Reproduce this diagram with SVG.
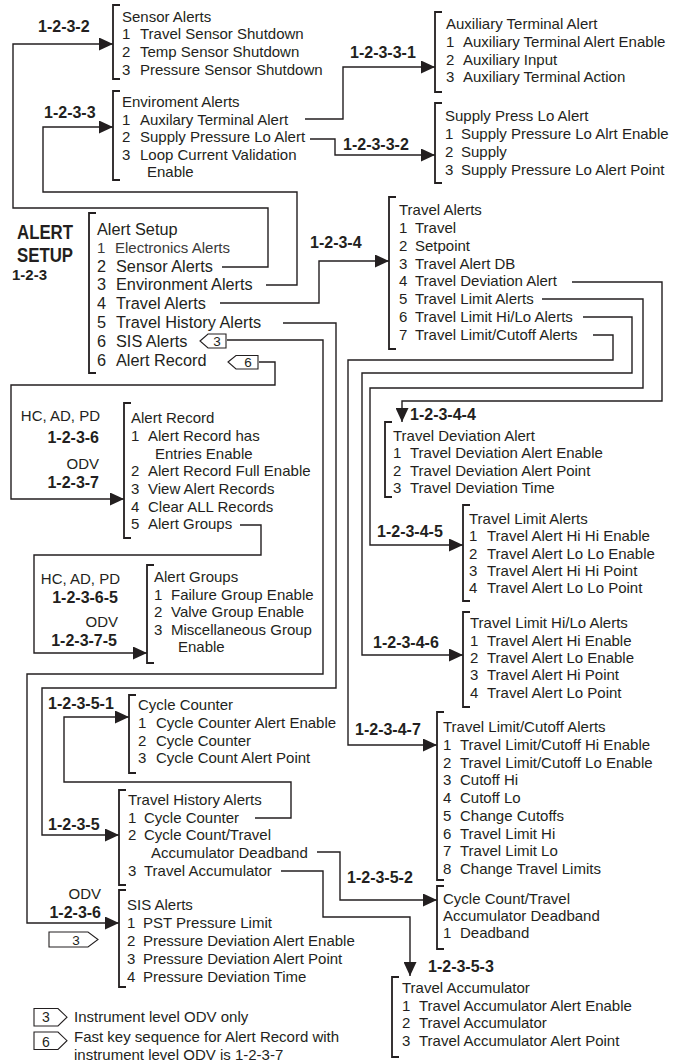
<svg xmlns="http://www.w3.org/2000/svg" width="673" height="1064" viewBox="0 0 673 1064">
<style>
text { font-family: "Liberation Sans", Arial, sans-serif; font-size: 15px; fill: #231f20; }
.m { font-size: 16.3px; }
.e { font-size: 15px; fill: #3a3a3a; }
.b { font-weight: bold; font-size: 16px; }
.big { font-weight: bold; font-size: 20px; }
.r { text-anchor: end; }
.bd { font-size: 13.5px; text-anchor: middle; }
.br { fill: none; stroke: #231f20; stroke-width: 1.8; }
.c { fill: none; stroke: #231f20; stroke-width: 1.4; }
.a { marker-end: url(#ah); }
.ad { marker-end: url(#ahd); }
.tag { fill: #fff; stroke: #231f20; stroke-width: 1.1; }
</style>
<defs>
<marker id="ah" viewBox="0 0 14 13" refX="14" refY="6.5" markerWidth="14" markerHeight="13" markerUnits="userSpaceOnUse" orient="auto"><path d="M0,0 L14,6.5 L0,13 z" fill="#231f20"/></marker>
<marker id="ahd" viewBox="0 0 14 13" refX="14" refY="6.5" markerWidth="14" markerHeight="13" markerUnits="userSpaceOnUse" orient="auto"><path d="M0,0 L14,6.5 L0,13 z" fill="#231f20"/></marker>
</defs>
<rect width="673" height="1064" fill="#fff"/>

<g id="connectors">
<polyline class="c a" points="222,267 268,267 268,208 13,208 13,44 113,44"/>
<polyline class="c a" points="266,285 297,285 297,192 43,192 43,127 113,127"/>
<polyline class="c a" points="220,303 319,303 319,261 389,261"/>
<polyline class="c a" points="283,323 336,323 336,688 42,688 42,835 119,835"/>
<polyline class="c a" points="227,340 323,340 323,674 27,674 27,923 119,923"/>
<polyline class="c a" points="259,362 275,362 275,385 11,385 11,499 124,499"/>
<polyline class="c a" points="240,525 261,525 261,555 34,555 34,653 147,653"/>
<polyline class="c a" points="305,119 343,119 343,67 435,67"/>
<polyline class="c a" points="310,139 335,139 335,155 435,155"/>
<polyline class="c ad" points="572,282 662,282 662,401 402,401 402,422"/>
<polyline class="c a" points="542,299 643,299 643,388 370,388 370,545 463,545"/>
<polyline class="c a" points="583,317 632,317 632,373 362,373 362,655 463,655"/>
<polyline class="c a" points="593,335 613,335 613,360 348,360 348,745 437,745"/>
<polyline class="c a" points="255,818 291,818 291,782 64,782 64,717 129,717"/>
<polyline class="c a" points="317,852 340,852 340,900 437,900"/>
<polyline class="c ad" points="281,871 323,871 323,917 410,917 410,976"/>
</g>

<g id="labels">
<text class="b" x="38" y="32">1-2-3-2</text>
<text class="b" x="44" y="118">1-2-3-3</text>
<text class="b" x="350" y="58">1-2-3-3-1</text>
<text class="b" x="343" y="150">1-2-3-3-2</text>
<text class="b" x="310" y="248">1-2-3-4</text>
<text class="b" x="410" y="420">1-2-3-4-4</text>
<text class="b" x="377" y="537">1-2-3-4-5</text>
<text class="b" x="373" y="648">1-2-3-4-6</text>
<text class="b" x="355" y="735">1-2-3-4-7</text>
<text class="b" x="48" y="709">1-2-3-5-1</text>
<text class="b" x="48" y="830">1-2-3-5</text>
<text class="b" x="347" y="883">1-2-3-5-2</text>
<text class="b" x="428" y="972">1-2-3-5-3</text>
<text class="r" x="100" y="421">HC, AD, PD</text>
<text class="b r" x="99" y="443">1-2-3-6</text>
<text class="r" x="99" y="469">ODV</text>
<text class="b r" x="99" y="488">1-2-3-7</text>
<text class="r" x="120" y="584">HC, AD, PD</text>
<text class="b r" x="118" y="603">1-2-3-6-5</text>
<text class="r" x="118" y="627">ODV</text>
<text class="b r" x="117" y="646">1-2-3-7-5</text>
<text class="r" x="101" y="899">ODV</text>
<text class="b r" x="101" y="918">1-2-3-6</text>
<path class="tag" d="M49,932 H88 L98,939.5 L88,947 H49 Z"/>
<text class="bd" x="76" y="944.5">3</text>
</g>

<g id="title">
<text class="big" x="17" y="239" textLength="56" lengthAdjust="spacingAndGlyphs">ALERT</text>
<text class="big" x="17" y="262" textLength="56" lengthAdjust="spacingAndGlyphs">SETUP</text>
<text class="b" x="12" y="280" style="font-size:15px">1-2-3</text>
</g>

<g id="n-alert-setup">
<path class="br" d="M96,213 H89 V373 H96"/>
<text class="m" x="97" y="235">Alert Setup</text>
<text class="e" y="252.7"><tspan x="97">1</tspan><tspan x="115">Electronics Alerts</tspan></text>
<text class="m" y="271.7"><tspan x="97">2</tspan><tspan x="116">Sensor Alerts</tspan></text>
<text class="m" y="290.3"><tspan x="97">3</tspan><tspan x="116">Environment Alerts</tspan></text>
<text class="m" y="309.2"><tspan x="97">4</tspan><tspan x="116">Travel Alerts</tspan></text>
<text class="m" y="328.1"><tspan x="97">5</tspan><tspan x="116">Travel History Alerts</tspan></text>
<text class="m" y="347"><tspan x="97">6</tspan><tspan x="116">SIS Alerts</tspan></text>
<text class="m" y="366"><tspan x="97">6</tspan><tspan x="116">Alert Record</tspan></text>
<path class="tag" d="M200,341 L208,334 H226 V348 H208 Z"/>
<text class="bd" x="217" y="346">3</text>
<path class="tag" d="M228,362 L236,355.5 H258 V369 H236 Z"/>
<text class="bd" x="248" y="367">6</text>
</g>

<g id="n-sensor">
<path class="br" d="M120,5 H113 V79 H120"/>
<text x="122" y="21.5">Sensor Alerts</text>
<text y="39.3"><tspan x="122">1</tspan><tspan x="140">Travel Sensor Shutdown</tspan></text>
<text y="57.1"><tspan x="122">2</tspan><tspan x="140">Temp Sensor Shutdown</tspan></text>
<text y="74.9"><tspan x="122">3</tspan><tspan x="140">Pressure Sensor Shutdown</tspan></text>
</g>

<g id="n-environment">
<path class="br" d="M120,91 H113 V180 H120"/>
<text x="122" y="107.3">Enviroment Alerts</text>
<text y="124.6"><tspan x="122">1</tspan><tspan x="140">Auxilary Terminal Alert</tspan></text>
<text y="142.2"><tspan x="122">2</tspan><tspan x="140">Supply Pressure Lo Alert</tspan></text>
<text y="159.8"><tspan x="122">3</tspan><tspan x="140">Loop Current Validation</tspan></text>
<text x="147" y="177.3">Enable</text>
</g>

<g id="n-aux-terminal">
<path class="br" d="M442,12 H435 V92 H442"/>
<text x="446" y="29.3">Auxiliary Terminal Alert</text>
<text y="47"><tspan x="446">1</tspan><tspan x="463">Auxiliary Terminal Alert Enable</tspan></text>
<text y="64.7"><tspan x="446">2</tspan><tspan x="463">Auxiliary Input</tspan></text>
<text y="82.4"><tspan x="446">3</tspan><tspan x="463">Auxiliary Terminal Action</tspan></text>
</g>

<g id="n-supply-press">
<path class="br" d="M442,103 H435 V183 H442"/>
<text x="445" y="121">Supply Press Lo Alert</text>
<text y="139"><tspan x="445">1</tspan><tspan x="461">Supply Pressure Lo Alrt Enable</tspan></text>
<text y="157"><tspan x="445">2</tspan><tspan x="461">Supply</tspan></text>
<text y="175"><tspan x="445">3</tspan><tspan x="461">Supply Pressure Lo Alert Point</tspan></text>
</g>

<g id="n-travel-alerts">
<path class="br" d="M396,197 H389 V349 H396"/>
<text x="399" y="215">Travel Alerts</text>
<text y="232.9"><tspan x="399">1</tspan><tspan x="415">Travel</tspan></text>
<text y="250.7"><tspan x="399">2</tspan><tspan x="415">Setpoint</tspan></text>
<text y="268.6"><tspan x="399">3</tspan><tspan x="415">Travel Alert DB</tspan></text>
<text y="286.4"><tspan x="399">4</tspan><tspan x="415">Travel Deviation Alert</tspan></text>
<text y="304.3"><tspan x="399">5</tspan><tspan x="415">Travel Limit Alerts</tspan></text>
<text y="322.1"><tspan x="399">6</tspan><tspan x="415">Travel Limit Hi/Lo Alerts</tspan></text>
<text y="340"><tspan x="399">7</tspan><tspan x="415">Travel Limit/Cutoff Alerts</tspan></text>
</g>

<g id="n-travel-deviation">
<path class="br" d="M392,422 H385 V497 H392"/>
<text x="393" y="441">Travel Deviation Alert</text>
<text y="458.4"><tspan x="393">1</tspan><tspan x="410">Travel Deviation Alert Enable</tspan></text>
<text y="475.9"><tspan x="393">2</tspan><tspan x="410">Travel Deviation Alert Point</tspan></text>
<text y="493.3"><tspan x="393">3</tspan><tspan x="410">Travel Deviation Time</tspan></text>
</g>

<g id="n-travel-limit">
<path class="br" d="M470,505 H463 V601 H470"/>
<text x="469" y="524">Travel Limit Alerts</text>
<text y="541.3"><tspan x="469">1</tspan><tspan x="487">Travel Alert Hi Hi Enable</tspan></text>
<text y="558.7"><tspan x="469">2</tspan><tspan x="487">Travel Alert Lo Lo Enable</tspan></text>
<text y="576"><tspan x="469">3</tspan><tspan x="487">Travel Alert Hi Hi Point</tspan></text>
<text y="593.3"><tspan x="469">4</tspan><tspan x="487">Travel Alert Lo Lo Point</tspan></text>
</g>

<g id="n-travel-limit-hilo">
<path class="br" d="M470,612 H463 V707 H470"/>
<text x="470" y="628.3">Travel Limit Hi/Lo Alerts</text>
<text y="645.6"><tspan x="470">1</tspan><tspan x="487">Travel Alert Hi Enable</tspan></text>
<text y="662.9"><tspan x="470">2</tspan><tspan x="487">Travel Alert Lo Enable</tspan></text>
<text y="680.2"><tspan x="470">3</tspan><tspan x="487">Travel Alert Hi Point</tspan></text>
<text y="697.5"><tspan x="470">4</tspan><tspan x="487">Travel Alert Lo Point</tspan></text>
</g>

<g id="n-travel-limit-cutoff">
<path class="br" d="M444,712 H437 V880 H444"/>
<text x="443" y="732">Travel Limit/Cutoff Alerts</text>
<text y="749.8"><tspan x="443">1</tspan><tspan x="460">Travel Limit/Cutoff Hi Enable</tspan></text>
<text y="767.5"><tspan x="443">2</tspan><tspan x="460">Travel Limit/Cutoff Lo Enable</tspan></text>
<text y="785.3"><tspan x="443">3</tspan><tspan x="460">Cutoff Hi</tspan></text>
<text y="803"><tspan x="443">4</tspan><tspan x="460">Cutoff Lo</tspan></text>
<text y="820.8"><tspan x="443">5</tspan><tspan x="460">Change Cutoffs</tspan></text>
<text y="838.5"><tspan x="443">6</tspan><tspan x="460">Travel Limit Hi</tspan></text>
<text y="856.3"><tspan x="443">7</tspan><tspan x="460">Travel Limit Lo</tspan></text>
<text y="874"><tspan x="443">8</tspan><tspan x="460">Change Travel Limits</tspan></text>
</g>

<g id="n-alert-record">
<path class="br" d="M131,403 H124 V538 H131"/>
<text x="131" y="423.3">Alert Record</text>
<text y="441"><tspan x="131">1</tspan><tspan x="148">Alert Record has</tspan></text>
<text x="155" y="458.5">Entries Enable</text>
<text y="476"><tspan x="131">2</tspan><tspan x="148">Alert Record Full Enable</tspan></text>
<text y="493.6"><tspan x="131">3</tspan><tspan x="148">View Alert Records</tspan></text>
<text y="511.5"><tspan x="131">4</tspan><tspan x="148">Clear ALL Records</tspan></text>
<text y="529.2"><tspan x="131">5</tspan><tspan x="148">Alert Groups</tspan></text>
</g>

<g id="n-alert-groups">
<path class="br" d="M154,565 H147 V663 H154"/>
<text x="154" y="581.7">Alert Groups</text>
<text y="599.6"><tspan x="154">1</tspan><tspan x="171">Failure Group Enable</tspan></text>
<text y="617"><tspan x="154">2</tspan><tspan x="171">Valve Group Enable</tspan></text>
<text y="634.8"><tspan x="154">3</tspan><tspan x="171">Miscellaneous Group</tspan></text>
<text x="178" y="652">Enable</text>
</g>

<g id="n-cycle-counter">
<path class="br" d="M136,695 H129 V773 H136"/>
<text x="138" y="710">Cycle Counter</text>
<text y="728"><tspan x="138">1</tspan><tspan x="156">Cycle Counter Alert Enable</tspan></text>
<text y="745.6"><tspan x="138">2</tspan><tspan x="156">Cycle Counter</tspan></text>
<text y="763.3"><tspan x="138">3</tspan><tspan x="156">Cycle Count Alert Point</tspan></text>
</g>

<g id="n-travel-history">
<path class="br" d="M126,790 H119 V885 H126"/>
<text x="128" y="805">Travel History Alerts</text>
<text y="822.7"><tspan x="128">1</tspan><tspan x="144">Cycle Counter</tspan></text>
<text y="840.2"><tspan x="128">2</tspan><tspan x="144">Cycle Count/Travel</tspan></text>
<text x="151" y="857.8">Accumulator Deadband</text>
<text y="875.8"><tspan x="128">3</tspan><tspan x="144">Travel Accumulator</tspan></text>
</g>

<g id="n-sis">
<path class="br" d="M126,890 H119 V987 H126"/>
<text x="127" y="910">SIS Alerts</text>
<text y="928.2"><tspan x="127">1</tspan><tspan x="143">PST Pressure Limit</tspan></text>
<text y="946"><tspan x="127">2</tspan><tspan x="143">Pressure Deviation Alert Enable</tspan></text>
<text y="963.9"><tspan x="127">3</tspan><tspan x="143">Pressure Deviation Alert Point</tspan></text>
<text y="981.7"><tspan x="127">4</tspan><tspan x="143">Pressure Deviation Time</tspan></text>
</g>

<g id="n-deadband">
<path class="br" d="M444,886 H437 V949 H444"/>
<text x="443" y="904">Cycle Count/Travel</text>
<text x="443" y="921">Accumulator Deadband</text>
<text y="938.2"><tspan x="443">1</tspan><tspan x="460">Deadband</tspan></text>
</g>

<g id="n-travel-accumulator">
<path class="br" d="M399,977 H392 V1057 H399"/>
<text x="402" y="993.3">Travel Accumulator</text>
<text y="1011"><tspan x="402">1</tspan><tspan x="419">Travel Accumulator Alert Enable</tspan></text>
<text y="1028.3"><tspan x="402">2</tspan><tspan x="419">Travel Accumulator</tspan></text>
<text y="1045.6"><tspan x="402">3</tspan><tspan x="419">Travel Accumulator Alert Point</tspan></text>
</g>

<g id="legend">
<path class="tag" d="M34,1008.5 H58 L67,1017.2 L58,1026 H34 Z"/>
<text class="bd" x="46" y="1022.3" style="font-size:14px">3</text>
<text x="74" y="1022">Instrument level ODV only</text>
<path class="tag" d="M34,1032 H58 L67,1040.7 L58,1049.5 H34 Z"/>
<text class="bd" x="46" y="1046.5" style="font-size:14px">6</text>
<text x="74" y="1042">Fast key sequence for Alert Record with</text>
<text x="74" y="1060">instrument level ODV is 1-2-3-7</text>
</g>
</svg>
